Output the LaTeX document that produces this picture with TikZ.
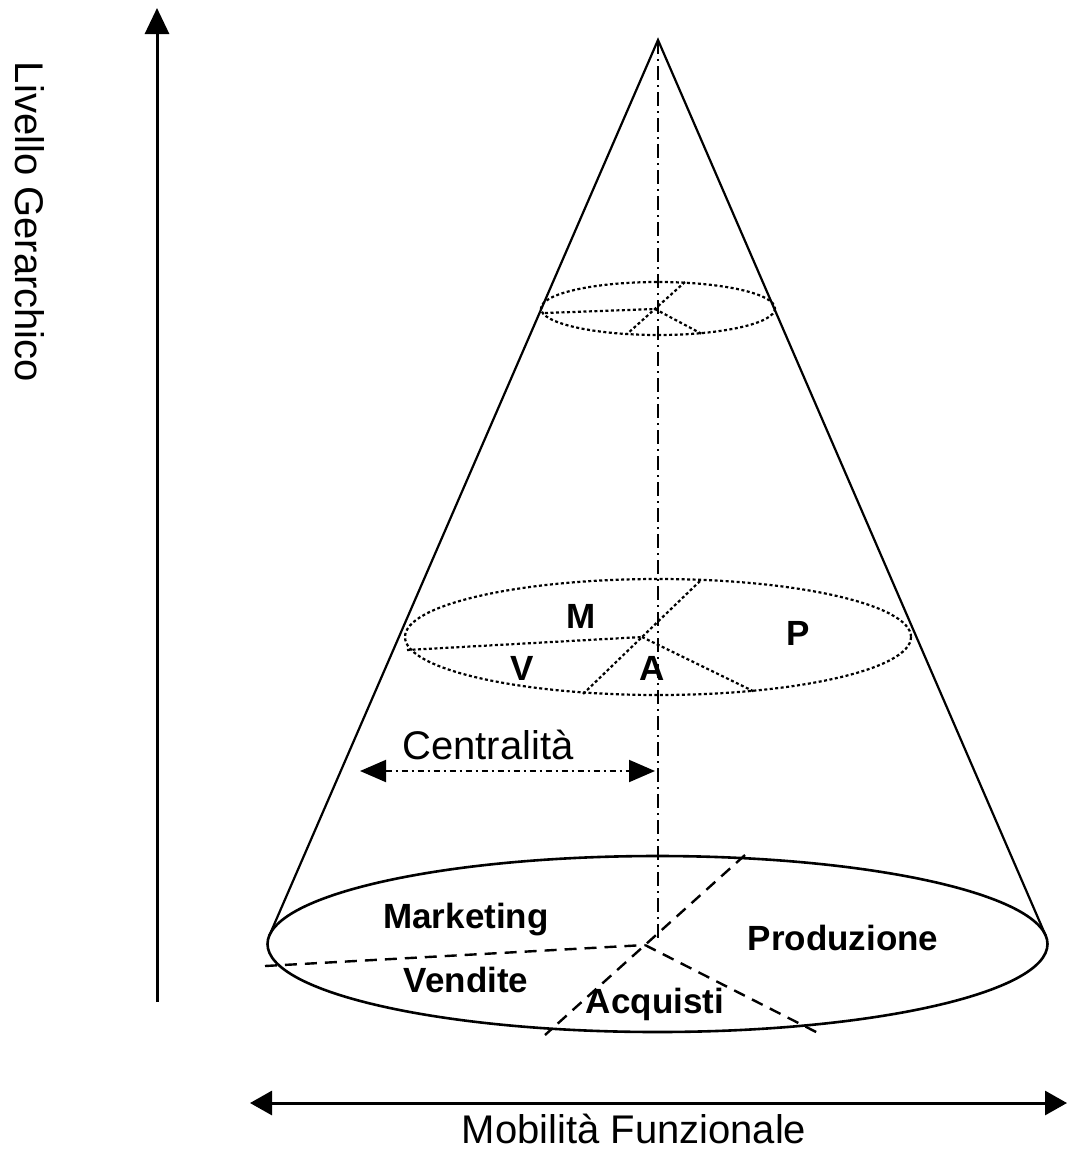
\documentclass[tikz,border=0pt]{standalone}
\usepackage{fontspec}
\setmainfont{Liberation Sans}
\usetikzlibrary{arrows.meta}
\tikzset{
    cone/.style={line width=2.2pt},
    axisline/.style={line width=3pt, -{Triangle[length=26pt,width=24pt]}},
    secdot/.style={line width=2.2pt, dash pattern=on 3pt off 2.5pt},
    secdash/.style={line width=2.4pt, dash pattern=on 12pt off 8pt},
    dashdot/.style={line width=2pt, dash pattern=on 14pt off 5pt on 2pt off 5pt},
    lbl/.style={font=\fontsize{40}{48}\selectfont, inner sep=0pt},
    sect/.style={font=\fontsize{35}{42}\selectfont\bfseries, inner sep=0pt, anchor=base}
}
\begin{document}
\begin{tikzpicture}[x=1pt,y=-1pt]
    \useasboundingbox (0,0) rectangle (1068,1152);

    \coordinate (APEX) at (658,40);
    \coordinate (BASE) at (657.5,944);
    \coordinate (TL) at (269.4,935.4);
    \coordinate (TR) at (1045.6,935.4);

    % cone
    \draw[cone] (TL) -- (APEX) -- (TR);
    \draw[line width=2.6pt] (BASE) ellipse [x radius=390, y radius=88];
    \draw[dashdot] (APEX) -- (658,942);

    % top level
    \coordinate (TOP) at (658,308.5);
    \coordinate (TC) at (655,309);
    \coordinate (TW) at (545,313);
    \coordinate (TNE) at (685,282);
    \coordinate (TSW) at (627,334);
    \coordinate (TSE) at (702,334);
    \draw[secdot] (TOP) ellipse [x radius=117, y radius=26.5];
    \draw[secdot] (TW) -- (TC);
    \draw[secdot] (TNE) -- (TSW);
    \draw[secdot] (TC) -- (TSE);

    % middle level
    \coordinate (MID) at (658,637);
    \coordinate (MC) at (642,637);
    \coordinate (MW) at (407,650);
    \coordinate (MNE) at (700,581);
    \coordinate (MSW) at (583,694);
    \coordinate (MSE) at (755,692);
    \draw[secdot] (MID) ellipse [x radius=253, y radius=58];
    \draw[secdot] (MW) -- (MC);
    \draw[secdot] (MNE) -- (MSW);
    \draw[secdot] (MC) -- (MSE);
    \node[sect] (M) at (581,628) {M};
    \node[sect] (P) at (798,645) {P};
    \node[sect] (V) at (522,680) {V};
    \node[sect] (A) at (652,680) {A};

    % base level
    \coordinate (BC) at (645,945);
    \coordinate (BW) at (265,966);
    \coordinate (BNE) at (745,855);
    \coordinate (BSW) at (545,1035);
    \coordinate (BSE) at (822,1035);
    \draw[secdash] (BW) -- (BC);
    \draw[secdash] (BNE) -- (BSW);
    \draw[secdash] (BC) -- (BSE);
    \node[sect] (MKT) at (466,928) {Marketing};
    \node[sect] (VEN) at (466,992) {Vendite};
    \node[sect] (ACQ) at (655,1013) {Acquisti};
    \node[sect] (PROD) at (843,950) {Produzione};

    % centralita
    \coordinate (CR) at (655,771);
    \coordinate (CL) at (360,771);
    \draw[line width=2pt, dash pattern=on 6pt off 4pt on 2pt off 4pt,
          {Triangle[length=26pt,width=22pt]}-{Triangle[length=26pt,width=22pt]}] (CL) -- (CR);
    \node[lbl, anchor=base] (CENT) at (488,759) {Centralità};

    % axes
    \coordinate (YB) at (157,1002);
    \coordinate (YT) at (157,8);
    \draw[axisline] (YB) -- (YT);
    \node[lbl, rotate=-90] (LIV) at (30,222) {Livello Gerarchico};

    \coordinate (XL) at (250,1103);
    \coordinate (XR) at (1067,1103);
    \draw[line width=3pt, {Triangle[length=22pt,width=24pt]}-{Triangle[length=22pt,width=24pt]}] (XL) -- (XR);
    \node[lbl, anchor=base] (MOB) at (634,1143) {Mobilità Funzionale};
\end{tikzpicture}
\end{document}
